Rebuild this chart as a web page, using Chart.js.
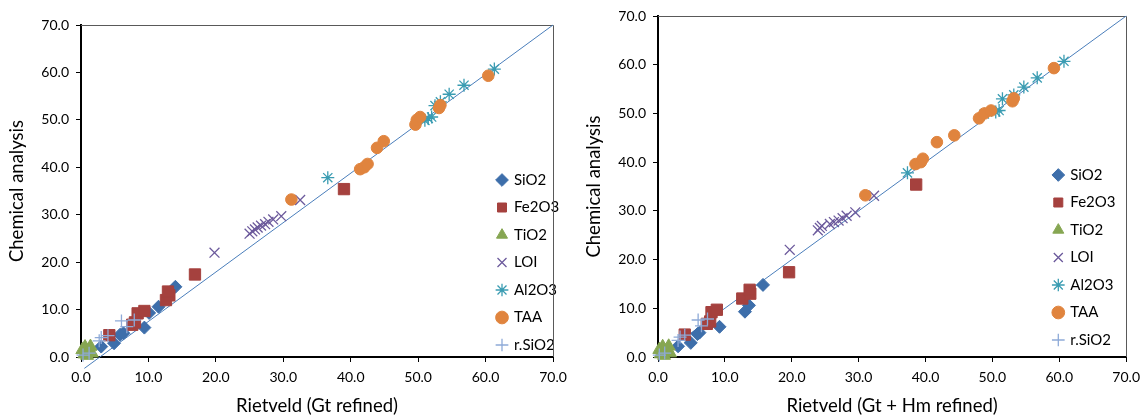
<!DOCTYPE html>
<html>
<head>
<meta charset="utf-8">
<script src="https://cdn.jsdelivr.net/npm/chart.js@4.4.1/dist/chart.umd.min.js"></script>
<style>
  html, body { margin: 0; padding: 0; background: #fff; }
  .row { display: flex; width: 1147px; height: 418px; }
  canvas { display: block; }
</style>
</head>
<body>
<div class="row">
  <canvas id="gtChart" width="575" height="418"></canvas>
  <canvas id="gtHmChart" width="572" height="418"></canvas>
</div>
<script>
const seriesNames = ["SiO2", "Fe2O3", "TiO2", "LOI", "Al2O3", "TAA", "r.SiO2"];
const axisTicks = [0, 10, 20, 30, 40, 50, 60, 70];

// chemical analysis (y values, same on both panels)
const chemSiO2 = [2.2, 2.9, 4.7, 5.0, 6.2, 9.3, 10.6, 14.8];
const chemFe2O3 = [4.6, 6.8, 7.3, 9.2, 9.7, 12.0, 13.0, 13.8, 17.4, 35.4];
const chemTiO2 = [1.5, 0.6, 2.1, 1.2, 2.2, 0.8, 0.3];
const chemLOI = [22.0, 26.0, 26.5, 26.9, 27.3, 27.7, 28.0, 28.5, 29.0, 29.7, 33.1];
const chemAl2O3 = [37.8, 49.9, 50.3, 50.6, 53.0, 53.8, 55.4, 57.3, 60.7];
const chemTAA = [33.2, 39.6, 40.0, 40.7, 44.1, 45.5, 49.0, 50.0, 50.6, 52.5, 53.1, 59.3];
const chemRSiO2 = [0.4, 0.8, 3.4, 4.1, 4.5, 7.6, 6.4, 7.8];

// Rietveld, Gt refined (left panel x values)
const gtSiO2 = [3.0, 4.9, 5.8, 6.3, 9.4, 10.1, 11.5, 14.0];
const gtFe2O3 = [4.2, 7.6, 8.0, 8.4, 9.4, 12.6, 13.1, 12.9, 16.9, 39.0];
const gtTiO2 = [0.2, 0.5, 0.6, 1.0, 1.4, 1.6, 0.9];
const gtLOI = [19.8, 25.0, 25.4, 25.8, 26.2, 26.7, 27.3, 27.8, 28.5, 29.7, 32.5];
const gtAl2O3 = [36.6, 51.0, 51.5, 52.0, 52.5, 53.3, 54.6, 56.8, 61.3];
const gtTAA = [31.2, 41.4, 42.0, 42.5, 43.9, 44.9, 49.6, 49.8, 50.3, 53.1, 53.3, 60.4];
const gtRSiO2 = [0.3, 1.2, 2.7, 3.0, 4.0, 6.0, 6.8, 7.9];

// Rietveld, Gt + Hm refined (right panel x values)
const gtHmSiO2 = [3.0, 4.9, 5.9, 6.2, 9.2, 13.0, 13.6, 15.7];
const gtHmFe2O3 = [4.0, 7.3, 7.8, 8.0, 8.8, 12.6, 13.8, 13.7, 19.6, 38.6];
const gtHmTiO2 = [0.2, 0.4, 0.7, 1.1, 1.6, 1.8, 0.9];
const gtHmLOI = [19.7, 23.9, 24.2, 24.5, 25.7, 26.3, 27.0, 27.6, 28.2, 29.5, 32.3];
const gtHmAl2O3 = [37.3, 48.8, 50.5, 51.0, 51.5, 53.2, 54.7, 56.7, 60.7];
const gtHmTAA = [31.0, 38.5, 39.3, 39.6, 41.7, 44.3, 48.0, 48.8, 49.8, 53.0, 53.2, 59.2];
const gtHmRSiO2 = [0.2, 1.0, 3.0, 3.3, 4.0, 6.0, 6.5, 7.4];

// reference lines
const lineGtX = [0.5, 70];
const lineGtY = [-2.4, 70];
const lineGtHmX = [0, 70];
const lineGtHmY = [0, 70];

const chemAll = [chemSiO2, chemFe2O3, chemTiO2, chemLOI, chemAl2O3, chemTAA, chemRSiO2];
const gtAll = [gtSiO2, gtFe2O3, gtTiO2, gtLOI, gtAl2O3, gtTAA, gtRSiO2];
const gtHmAll = [gtHmSiO2, gtHmFe2O3, gtHmTiO2, gtHmLOI, gtHmAl2O3, gtHmTAA, gtHmRSiO2];

const markers = [
  { style: "rectRot", color: "#3D6EAA", r: 6.5, bw: 1 },
  { style: "rect", color: "#A5413E", r: 8, bw: 1 },
  { style: "triangle", color: "#86A652", r: 7.5, bw: 1 },
  { style: "crossRot", color: "#6C5A9C", r: 7, bw: 1.3 },
  { style: "star", color: "#3A9CB2", r: 6.5, bw: 1.3 },
  { style: "circle", color: "#E0843E", r: 5.8, bw: 1 },
  { style: "cross", color: "#8EAAD8", r: 6.5, bw: 1.3 },
];

Chart.defaults.font.family = "Lato, 'Open Sans', sans-serif";
Chart.defaults.color = "#000";

function buildDatasets(xs, lineX, lineY) {
  const sets = seriesNames.map((name, i) => ({
    label: name,
    data: xs[i].map((x, j) => ({ x: x, y: chemAll[i][j] })),
    pointStyle: markers[i].style,
    pointRadius: markers[i].r,
    pointHoverRadius: markers[i].r,
    backgroundColor: markers[i].color,
    borderColor: markers[i].color,
    pointBorderWidth: markers[i].bw,
    borderWidth: markers[i].bw,
    showLine: false,
    clip: false,
    order: 7 - i,
  }));
  sets.push({
    label: "1:1",
    data: lineX.map((x, j) => ({ x: x, y: lineY[j] })),
    showLine: true,
    pointRadius: 0,
    borderColor: "#4A7EBB",
    borderWidth: 1,
    clip: false,
    order: 10,
  });
  return sets;
}

// top and right edge of the plot area
const plotFrame = {
  id: "plotFrame",
  beforeDatasetsDraw(chart) {
    const { ctx, chartArea: a } = chart;
    ctx.save();
    ctx.strokeStyle = "#595959";
    ctx.lineWidth = 1;
    ctx.beginPath();
    ctx.moveTo(a.left, Math.round(a.top) + 0.5);
    ctx.lineTo(Math.round(a.right) + 0.5, Math.round(a.top) + 0.5);
    ctx.lineTo(Math.round(a.right) + 0.5, a.bottom);
    ctx.stroke();
    ctx.restore();
  },
};

// move the legend box inside the plot area
function legendAt(left, top) {
  return {
    id: "legendAt",
    afterLayout(chart) {
      const lg = chart.legend;
      lg.left = left;
      lg.right = left + lg.width;
      lg.top = top;
      lg.bottom = top + 400;
    },
  };
}

function axis(title, fitSize, isX, titlePad) {
  return {
    type: "linear",
    min: 0,
    max: 70,
    afterBuildTicks: (s) => { s.ticks = axisTicks.map((v) => ({ value: v })); },
    afterFit: (s) => { if (isX) s.height = fitSize; else s.width = fitSize; },
    ticks: {
      callback: (v) => v.toFixed(1),
      font: { size: 14 },
      color: "#000",
      padding: 7,
      maxRotation: 0,
      autoSkip: false,
    },
    grid: { drawOnChartArea: false, drawTicks: true, tickLength: 5, tickColor: "#000", tickWidth: 1 },
    border: { display: true, color: "#000", width: 2 },
    title: { display: true, text: title, font: { size: 18.5 }, color: "#000", padding: titlePad },
  };
}

function makeChart(id, xs, lineX, lineY, xTitle, cfg) {
  return new Chart(document.getElementById(id), {
    type: "scatter",
    data: { datasets: buildDatasets(xs, lineX, lineY) },
    options: {
      responsive: false,
      animation: false,
      events: [],
      layout: { padding: { left: 0, top: cfg.top, right: cfg.right, bottom: 0 } },
      plugins: {
        tooltip: { enabled: false },
        legend: {
          position: "chartArea",
          align: "start",
          labels: {
            usePointStyle: true,
            boxWidth: 9,
            boxHeight: 9,
            padding: 12.5,
            font: { size: 15 },
            color: "#000",
            filter: (item) => item.datasetIndex < seriesNames.length,
            sort: (a, b) => a.datasetIndex - b.datasetIndex,
          },
        },
      },
      scales: {
        x: axis(xTitle, 418 - cfg.bottom, true, { top: 0, bottom: 1 }),
        y: axis("Chemical analysis", cfg.left, false, { top: cfg.yTitlePad, bottom: 0 }),
      },
    },
    plugins: [plotFrame, legendAt(cfg.legendLeft, cfg.legendTop)],
  });
}

makeChart("gtChart", gtAll, lineGtX, lineGtY, "Rietveld (Gt refined)",
  { left: 81, top: 25, right: 22, bottom: 357, yTitlePad: 6, legendLeft: 485, legendTop: 160 });
makeChart("gtHmChart", gtHmAll, lineGtHmX, lineGtHmY, "Rietveld (Gt + Hm refined)",
  { left: 83, top: 16, right: 19.5, bottom: 357, yTitlePad: 8, legendLeft: 466.3, legendTop: 155 });
</script>
</body>
</html>
